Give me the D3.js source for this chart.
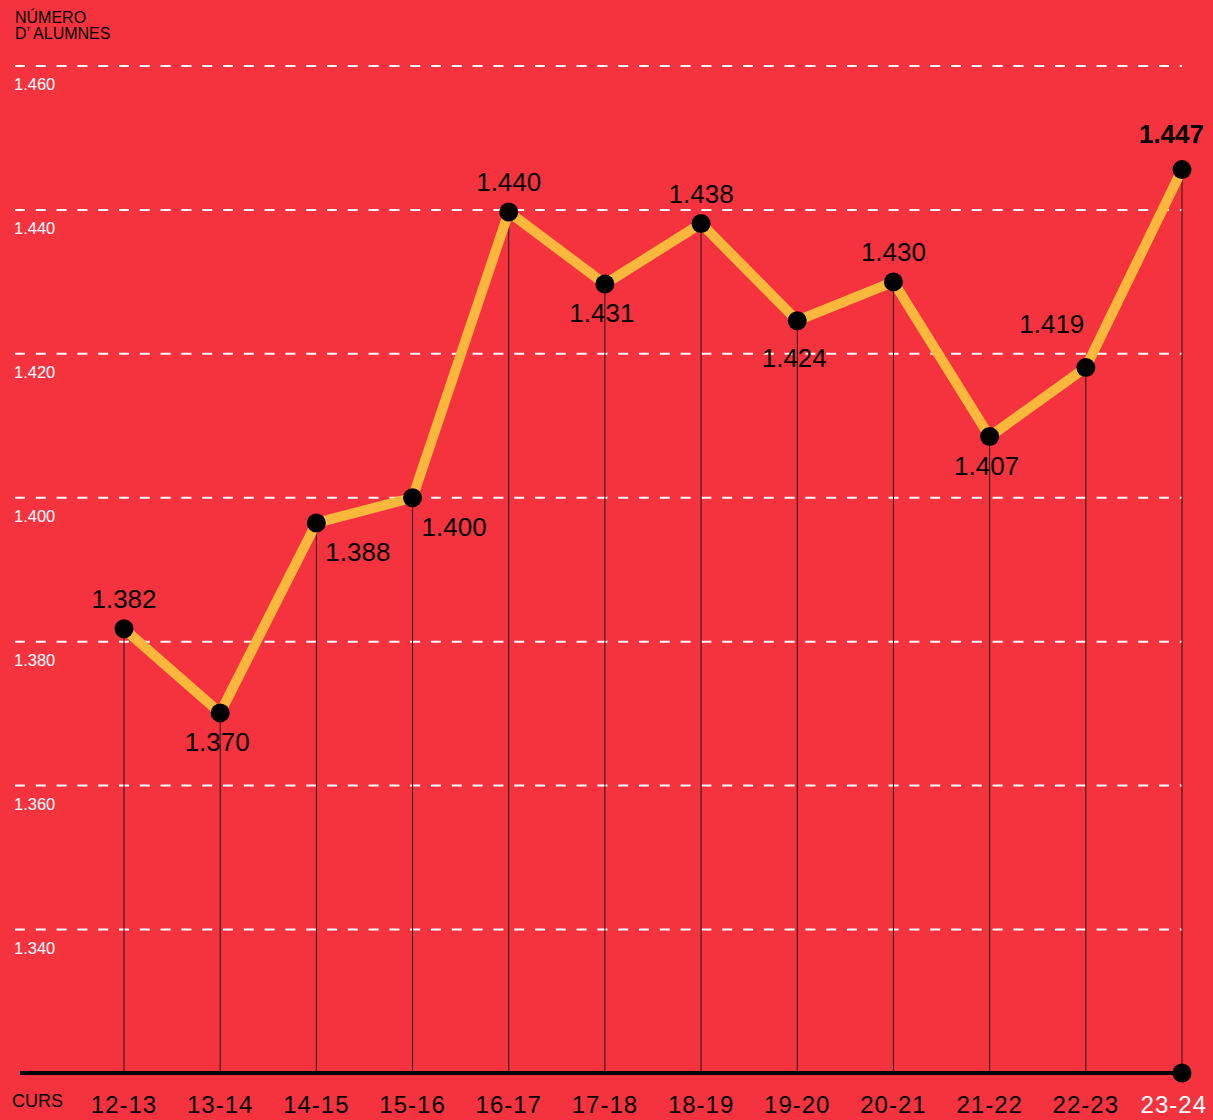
<!DOCTYPE html>
<html>
  <head>
    <meta charset="UTF-8">
    <title>Número d'alumnes per curs</title>
    <script src="https://cdn.jsdelivr.net/npm/d3@7"></script>
    <style>
      html, body { margin: 0; padding: 0; background: #f5333f; }
      svg { display: block; font-family: "Liberation Sans", Arial, Helvetica, sans-serif; }
    </style>
  </head>
  <body>
    <svg width="1213" height="1120"></svg>
    <script>

    // courses on the x axis
    var courses = ["12-13", "13-14", "14-15", "15-16", "16-17", "17-18",
                   "18-19", "19-20", "20-21", "21-22", "22-23", "23-24"];

    // plotted values
    var students = [1381.8, 1370.1, 1396.5, 1400, 1439.7, 1429.7,
                    1438.1, 1424.6, 1430, 1408.5, 1418.1, 1445.6];

    // value labels as printed
    var valueLabels = ["1.382", "1.370", "1.388", "1.400", "1.440", "1.431",
                       "1.438", "1.424", "1.430", "1.407", "1.419", "1.447"];

    // where each label sits relative to its point
    var labelSide = ["top", "bottom", "right", "right", "top", "bottom",
                     "top", "bottomlow", "top", "bottom", "topleft", "topend"];

    var yTicks = [1340, 1360, 1380, 1400, 1420, 1440, 1460];
    var yTickLabels = ["1.340", "1.360", "1.380", "1.400", "1.420", "1.440", "1.460"];

    var svg = d3.select("svg");

    var x = d3.scalePoint()
      .domain(courses)
      .range([124, 1182]);

    var y = d3.scaleLinear()
      .domain([1340, 1460])
      .range([929.5, 66]);

    var baseY = 1073;

    // dashed grid lines + tick labels
    var grid = svg.append("g");
    grid.selectAll("line")
      .data(yTicks)
      .enter().append("line")
      .attr("x1", 15)
      .attr("x2", 1182)
      .attr("y1", function(d) { return y(d); })
      .attr("y2", function(d) { return y(d); })
      .attr("stroke", "#fff")
      .attr("stroke-width", 2)
      .attr("stroke-dasharray", "10,10.8");

    grid.selectAll("text")
      .data(yTicks)
      .enter().append("text")
      .attr("x", 14)
      .attr("y", function(d) { return y(d) + 24; })
      .attr("fill", "#fff")
      .attr("font-size", 16.5)
      .text(function(d, i) { return yTickLabels[i]; });

    // title
    svg.append("text")
      .attr("x", 15).attr("y", 23)
      .attr("font-size", 16)
      .attr("fill", "#000")
      .selectAll("tspan")
      .data(["NÚMERO", "D’ ALUMNES"])
      .enter().append("tspan")
      .attr("x", 15)
      .attr("dy", function(d, i) { return i ? 16 : 0; })
      .text(function(d) { return d; });

    // drop lines
    svg.append("g").selectAll("line")
      .data(students)
      .enter().append("line")
      .attr("x1", function(d, i) { return x(courses[i]); })
      .attr("x2", function(d, i) { return x(courses[i]); })
      .attr("y1", function(d) { return y(d); })
      .attr("y2", baseY)
      .attr("stroke", "#1a1a1a")
      .attr("stroke-width", 1);

    // baseline
    svg.append("line")
      .attr("x1", 20).attr("x2", x(courses[courses.length - 1]))
      .attr("y1", baseY).attr("y2", baseY)
      .attr("stroke", "#000")
      .attr("stroke-width", 4);

    svg.append("circle")
      .attr("cx", x(courses[courses.length - 1]))
      .attr("cy", baseY)
      .attr("r", 9.5)
      .attr("fill", "#000");

    // line
    var line = d3.line()
      .x(function(d, i) { return x(courses[i]); })
      .y(function(d) { return y(d); });

    svg.append("path")
      .datum(students)
      .attr("d", line)
      .attr("fill", "none")
      .attr("stroke", "#f9b83b")
      .attr("stroke-width", 10)
      .attr("stroke-linejoin", "round");

    svg.append("g").selectAll("circle")
      .data(students)
      .enter().append("circle")
      .attr("cx", function(d, i) { return x(courses[i]); })
      .attr("cy", function(d) { return y(d); })
      .attr("r", 9.5)
      .attr("fill", "#000");

    // value labels
    var offsets = {
      top:       { dx: 0,   dy: -21, anchor: "middle" },
      bottom:    { dx: -3,  dy: 38,  anchor: "middle" },
      bottomlow: { dx: -3,  dy: 46,  anchor: "middle" },
      right:     { dx: 9,   dy: 38,  anchor: "start" },
      topleft:   { dx: -34, dy: -35, anchor: "middle" },
      topend:    { dx: 22,  dy: -27, anchor: "end" }
    };

    svg.append("g").selectAll("text")
      .data(students)
      .enter().append("text")
      .attr("x", function(d, i) { return x(courses[i]) + offsets[labelSide[i]].dx; })
      .attr("y", function(d, i) { return y(d) + offsets[labelSide[i]].dy; })
      .attr("text-anchor", function(d, i) { return offsets[labelSide[i]].anchor; })
      .attr("font-size", 26)
      .attr("font-weight", function(d, i) { return i === students.length - 1 ? "bold" : "normal"; })
      .attr("fill", "#000")
      .text(function(d, i) { return valueLabels[i]; });

    // x axis labels
    svg.append("text")
      .attr("x", 12).attr("y", 1107)
      .attr("font-size", 18)
      .attr("fill", "#000")
      .text("CURS");

    svg.append("g").selectAll("text")
      .data(courses)
      .enter().append("text")
      .attr("x", function(d, i) { return i === courses.length - 1 ? 1207 : x(d); })
      .attr("y", 1113)
      .attr("text-anchor", function(d, i) { return i === courses.length - 1 ? "end" : "middle"; })
      .attr("font-size", 24)
      .attr("letter-spacing", 1)
      .attr("fill", function(d, i) { return i === courses.length - 1 ? "#fff" : "#000"; })
      .text(function(d) { return d; });

    </script>
  </body>
</html>
